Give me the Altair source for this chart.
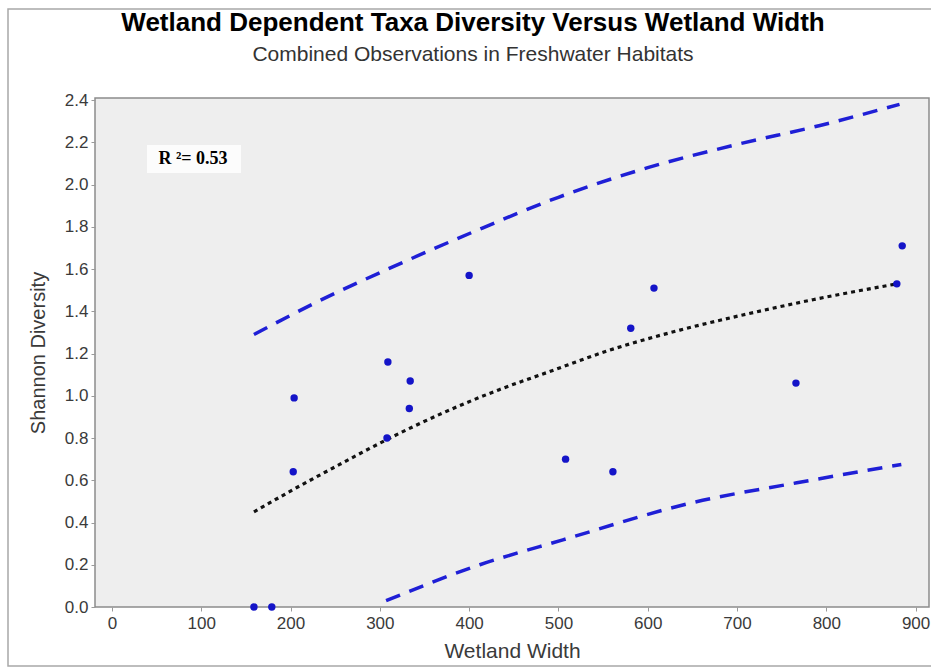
import altair as alt
import pandas as pd

# Observed sites: wetland width vs. Shannon diversity of wetland-dependent taxa
wetland_width = [159, 179, 203, 204, 308, 309, 333, 334, 400, 508, 561, 581, 607, 766, 879, 885]
shannon = [0.00, 0.00, 0.64, 0.99, 0.80, 1.16, 0.94, 1.07, 1.57, 0.70, 0.64, 1.32, 1.51, 1.06, 1.53, 1.71]

# Fitted trend
fit_width = [159, 203, 255, 308, 367, 433, 487, 561, 636, 711, 785, 879]
fit_value = [0.45, 0.556, 0.675, 0.793, 0.912, 1.028, 1.110, 1.221, 1.311, 1.387, 1.455, 1.530]

# Upper prediction bound
upper_width = [159, 230, 309, 404, 500, 600, 700, 793, 882]
upper_value = [1.29, 1.445, 1.60, 1.775, 1.94, 2.08, 2.19, 2.28, 2.38]

# Lower prediction bound
lower_width = [307, 412, 505, 651, 767, 884]
lower_value = [0.03, 0.20, 0.318, 0.495, 0.588, 0.675]

r2_label = "R \u00b2= 0.53"

SANS = "Liberation Sans, Arial, sans-serif"
SERIF = "Liberation Serif, Times New Roman, serif"

points_df = pd.DataFrame({"width": wetland_width, "diversity": shannon})
fit_df = pd.DataFrame({"width": fit_width, "diversity": fit_value})
upper_df = pd.DataFrame({"width": upper_width, "diversity": upper_value})
lower_df = pd.DataFrame({"width": lower_width, "diversity": lower_value})

x_scale = alt.Scale(domain=[-19, 915], nice=False, zero=False)
y_scale = alt.Scale(domain=[0, 2.41], nice=False, zero=False)

x_axis = alt.Axis(
    title="Wetland Width", values=list(range(0, 901, 100)), format="d",
    grid=False, domain=False, tickSize=4, tickColor="#9a9a9a",
    labelFont=SANS, labelFontSize=17, labelColor="#3a3a3a", labelPadding=4,
    titleFont=SANS, titleFontSize=21, titleFontWeight="normal", titleColor="#3a3a3a",
    titlePadding=9,
)
y_axis = alt.Axis(
    title="Shannon Diversity", values=[round(0.2 * i, 1) for i in range(13)], format=".1f",
    grid=False, domain=False, tickSize=4, tickColor="#9a9a9a",
    labelFont=SANS, labelFontSize=17, labelColor="#3a3a3a", labelPadding=3,
    titleFont=SANS, titleFontSize=20, titleFontWeight="normal", titleColor="#3a3a3a",
    titlePadding=16,
)

# Thin grey frame around the whole figure
outer_frame = alt.Chart(pd.DataFrame({"k": [0]})).mark_rect(
    filled=False, stroke="#a8a8a8", strokeWidth=1.5
).encode(
    x=alt.value(-87), x2=alt.value(850), y=alt.value(-89), y2=alt.value(568)
)

# White box behind the R² annotation
r2_box = alt.Chart(pd.DataFrame({"k": [0]})).mark_rect(
    fill="white", opacity=0.8
).encode(
    x=alt.value(52), x2=alt.value(146), y=alt.value(47), y2=alt.value(75)
)
r2_text = alt.Chart(pd.DataFrame({"label": [r2_label]})).mark_text(
    font=SERIF, fontSize=18, fontWeight="bold", color="black", align="center", baseline="middle"
).encode(
    x=alt.value(98), y=alt.value(61), text="label:N"
)

upper = alt.Chart(upper_df).mark_line(
    color="#1f1fd6", strokeWidth=3.5, strokeDash=[15, 10], interpolate="monotone"
).encode(
    x=alt.X("width:Q", scale=x_scale, axis=x_axis),
    y=alt.Y("diversity:Q", scale=y_scale, axis=y_axis),
)
lower = alt.Chart(lower_df).mark_line(
    color="#1f1fd6", strokeWidth=3.5, strokeDash=[15, 10], interpolate="monotone"
).encode(x="width:Q", y="diversity:Q")

fit = alt.Chart(fit_df).mark_line(
    color="#111111", strokeWidth=3.2, strokeDash=[4, 4], interpolate="monotone"
).encode(x="width:Q", y="diversity:Q")

points = alt.Chart(points_df).mark_circle(
    size=55, color="#1414c8", opacity=1
).encode(x="width:Q", y="diversity:Q")

chart = alt.layer(
    outer_frame, r2_box, r2_text, upper, lower, fit, points
).properties(
    width=834,
    height=509,
    autosize=alt.AutoSizeParams(type="none"),
    padding={"left": 95, "top": 98, "right": 2, "bottom": 62},
    background="white",
    title=alt.TitleParams(
        text="Wetland Dependent Taxa Diversity Versus Wetland Width",
        subtitle="Combined Observations in Freshwater Habitats",
        anchor="middle", dx=-39, offset=-57, subtitlePadding=8,
        font=SANS, fontSize=26, fontWeight="bold", color="black",
        subtitleFont=SANS, subtitleFontSize=21, subtitleColor="#333333",
    ),
).configure_view(
    fill="#eeeeee", stroke="#8c8c8c", strokeWidth=1.5
)

chart.save("out.html", embed_options={"renderer": "svg", "actions": False})
